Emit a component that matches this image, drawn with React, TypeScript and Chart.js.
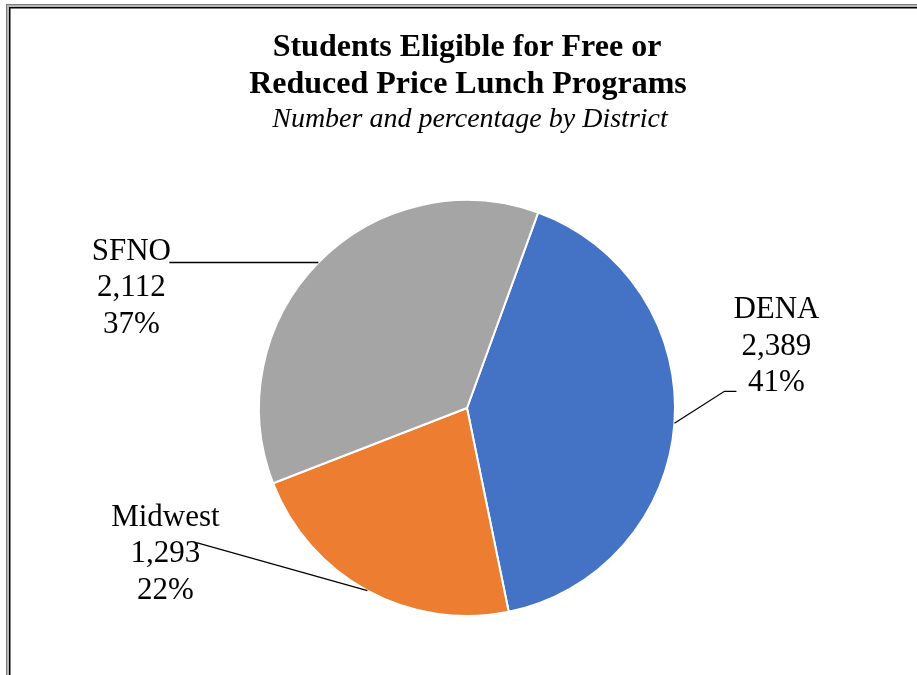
import React, { useEffect, useRef } from "react";
import { Chart, registerables } from "chart.js";

Chart.register(...registerables);

const districts = ["DENA", "Midwest", "SFNO"];
const students = [2389, 1293, 2112];
const percentShown = [41, 22, 37];
const sliceColors = ["#4472C4", "#ED7D31", "#A5A5A5"];
const titleLines = ["Students Eligible for Free or", "Reduced Price Lunch Programs"];
const subtitleText = "Number and percentage by District";

// label placement offsets relative to the rim point at each slice's mid-angle
const labelPlacement = [
  { tx: 102, ty: -105, leader: [[50, -32], [62, -32]] },
  { tx: -202, ty: -65, leader: [[-171, -48]] },
  { tx: -187, ty: -3, leader: [[-149, 0]] },
];

const SERIF = '"Liberation Serif", "Times New Roman", serif';

const decorPlugin = {
  id: "decor",
  beforeDraw(chart: any) {
    const ctx = chart.ctx;
    const w = chart.width;
    const h = chart.height;
    ctx.save();
    ctx.fillStyle = "#ffffff";
    ctx.fillRect(0, 0, w, h);
    // double border (top & left)
    ctx.fillStyle = "#7a7a7a";
    ctx.fillRect(6, 4, w - 6, 1);
    ctx.fillRect(6, 4, 1, h - 4);
    ctx.fillStyle = "#b8b8b8";
    ctx.fillRect(7, 5, w - 7, 2);
    ctx.fillRect(7, 5, 2, h - 5);
    ctx.fillStyle = "#000000";
    ctx.fillRect(9, 7, w - 9, 1.5);
    ctx.fillRect(9, 7, 1.5, h - 7);

    // titles
    ctx.fillStyle = "#000";
    ctx.textAlign = "center";
    ctx.textBaseline = "alphabetic";
    ctx.font = `bold 32px ${SERIF}`;
    ctx.fillText(titleLines[0], 467, 56);
    ctx.fillText(titleLines[1], 468, 93);
    ctx.font = `italic 28px ${SERIF}`;
    ctx.fillText(subtitleText, 470, 127);
    ctx.restore();
  },
  afterDatasetsDraw(chart: any) {
    const ctx = chart.ctx;
    const meta = chart.getDatasetMeta(0);
    const data = chart.data.datasets[0].data as number[];
    ctx.save();
    meta.data.forEach((arc: any, i: number) => {
      const p = arc.getProps(["x", "y", "startAngle", "endAngle", "outerRadius"], true);
      const mid = (p.startAngle + p.endAngle) / 2;
      const rx = p.x + p.outerRadius * Math.cos(mid);
      const ry = p.y + p.outerRadius * Math.sin(mid);
      const pl = labelPlacement[i];
      const lines = [
        String(chart.data.labels[i]),
        data[i].toLocaleString("en-US"),
        percentShown[i] + "%",
      ];
      ctx.fillStyle = "#000";
      ctx.font = `31px ${SERIF}`;
      ctx.textAlign = "center";
      ctx.textBaseline = "alphabetic";
      lines.forEach((t, k) => ctx.fillText(t, rx + pl.tx, ry + pl.ty + k * 36.5));
      ctx.strokeStyle = "#000";
      ctx.lineWidth = 1.3;
      ctx.beginPath();
      ctx.moveTo(rx, ry);
      pl.leader.forEach(([dx, dy]) => ctx.lineTo(rx + dx, ry + dy));
      ctx.stroke();
    });
    ctx.restore();
  },
};

export default function App() {
  const ref = useRef<HTMLCanvasElement | null>(null);
  useEffect(() => {
    document.body.style.margin = "0";
    const chart = new Chart(ref.current as HTMLCanvasElement, {
      type: "pie",
      data: {
        labels: districts,
        datasets: [
          {
            data: students,
            backgroundColor: sliceColors,
            borderColor: "#ffffff",
            borderWidth: 2,
            radius: 208,
          } as any,
        ],
      },
      options: {
        responsive: false,
        animation: false,
        devicePixelRatio: 1,
        rotation: 20,
        layout: { padding: { left: 240, right: 223, top: 190, bottom: 49 } },
        plugins: {
          legend: { display: false },
          title: { display: false },
          tooltip: { enabled: false },
        },
      },
      plugins: [decorPlugin],
    });
    return () => chart.destroy();
  }, []);
  return (
    <canvas ref={ref} width={917} height={675} style={{ display: "block", width: 917, height: 675 }} />
  );
}
